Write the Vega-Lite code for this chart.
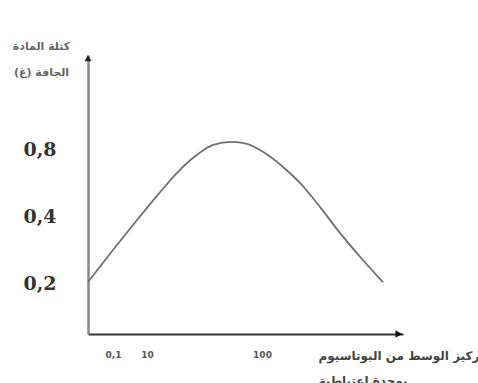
{
  "$schema": "https://vega.github.io/schema/vega-lite/v6.json",
  "autosize": "none",
  "width": 315,
  "height": 279,
  "padding": {"left": 88, "top": 55, "right": 75, "bottom": 49},
  "background": "white",
  "config": {"view": {"stroke": null}},
  "layer": [
    {
      "data": {"values": [
        {"c": 0, "m": 0.202},
        {"c": 0.1, "m": 0.282},
        {"c": 5.92, "m": 0.366},
        {"c": 17.8, "m": 0.496},
        {"c": 35.8, "m": 0.65},
        {"c": 49.1, "m": 0.76},
        {"c": 61.7, "m": 0.843},
        {"c": 76.5, "m": 0.87},
        {"c": 88.3, "m": 0.852},
        {"c": 100.7, "m": 0.784},
        {"c": 114.9, "m": 0.67},
        {"c": 126.9, "m": 0.568},
        {"c": 141.1, "m": 0.442},
        {"c": 155.3, "m": 0.337},
        {"c": 169.5, "m": 0.263},
        {"c": 185.8, "m": 0.202}
      ]},
      "mark": {"type": "line", "interpolate": "monotone", "color": "#707070", "strokeWidth": 1.8},
      "encoding": {
        "x": {
          "field": "c", "type": "quantitative",
          "scale": {"type": "linear", "domain": [0, 0.1, 10, 100, 200], "range": [0, 25, 59, 174, 315], "clamp": false},
          "axis": {
            "values": [0.1, 10, 100],
            "labelExpr": "datum.value == 0.1 ? '0,1' : datum.label",
            "ticks": false, "grid": false,
            "domainColor": "#333", "domainWidth": 2,
            "labelFont": "DejaVu Sans", "labelFontSize": 9, "labelFontWeight": "bold", "labelColor": "#555",
            "labelPadding": 16,
            "title": ["تركيز الوسط من البوتاسيوم", "بوحدة اعتباطية"],
            "titleFont": "DejaVu Sans", "titleFontSize": 12, "titleFontWeight": "bold", "titleColor": "#444",
            "titleAlign": "left", "titleAnchor": null, "titleBaseline": "top",
            "titleX": 230, "titleY": 16, "titleLineHeight": 25, "titleAngle": 0
          }
        },
        "y": {
          "field": "m", "type": "quantitative",
          "scale": {"type": "log", "base": 2, "domain": [0.1176, 2.15], "nice": false},
          "axis": {
            "values": [0.2, 0.4, 0.8],
            "labelExpr": "replace(format(datum.value, '.1f'), '.', ',')",
            "ticks": false, "grid": false,
            "domainColor": "#888", "domainWidth": 2.5,
            "labelFont": "DejaVu Serif", "labelFontSize": 19, "labelFontWeight": "bold", "labelColor": "#333",
            "labelPadding": 32,
            "title": ["كتلة المادة", "الجافة (غ)"],
            "titleFont": "DejaVu Sans", "titleFontSize": 11, "titleFontWeight": "bold", "titleColor": "#666",
            "titleAngle": 0, "titleAlign": "center", "titleBaseline": "top",
            "titleX": -47, "titleY": -15, "titleLineHeight": 26
          }
        }
      }
    },
    {
      "data": {"values": [{}]},
      "mark": {"type": "point", "shape": "triangle-up", "filled": true, "color": "#222", "size": 50, "opacity": 1},
      "encoding": {
        "x": {"datum": 0, "type": "quantitative"},
        "y": {"datum": 2.08, "type": "quantitative"}
      }
    },
    {
      "data": {"values": [{}]},
      "mark": {"type": "point", "shape": "triangle-right", "filled": true, "color": "#111", "size": 60, "opacity": 1},
      "encoding": {
        "x": {"datum": 197, "type": "quantitative"},
        "y": {"datum": 0.1176, "type": "quantitative"}
      }
    }
  ]
}
